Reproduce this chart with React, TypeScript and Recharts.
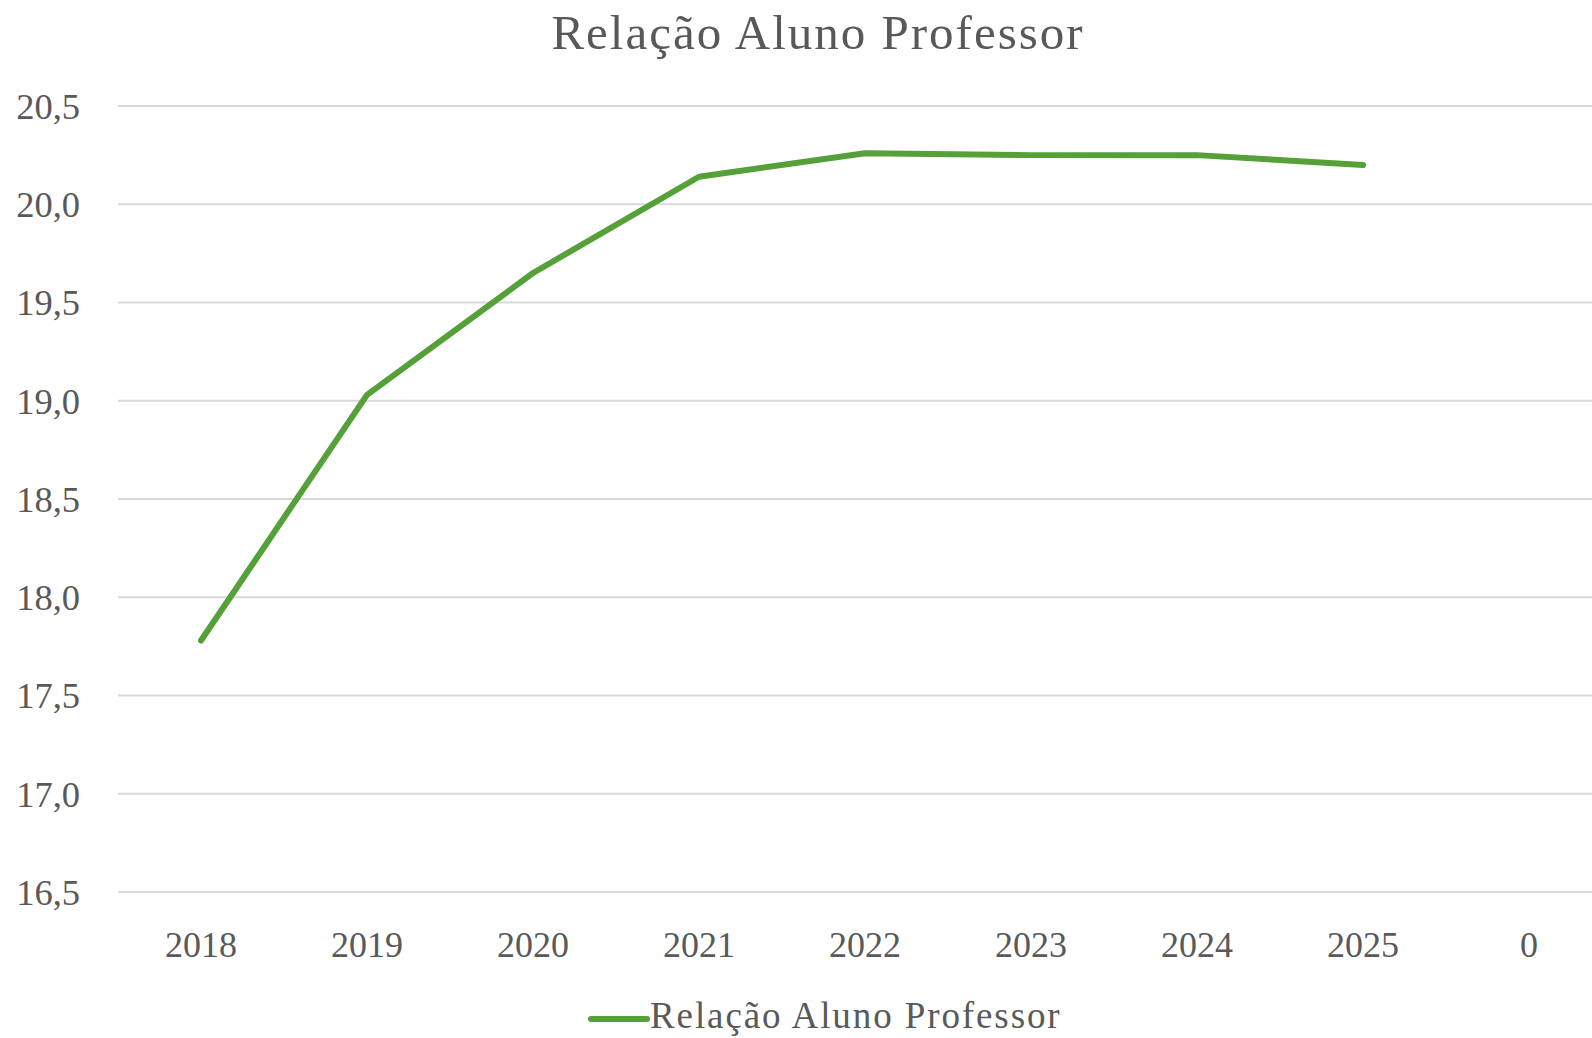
import React from "react"
import { LineChart, Line, XAxis, YAxis, CartesianGrid, Legend } from "recharts"

const years = ["2018", "2019", "2020", "2021", "2022", "2023", "2024", "2025", "0"]
const ratio = [17.78, 19.03, 19.65, 20.14, 20.26, 20.25, 20.25, 20.2, null]
const yTicks = [16.5, 17, 17.5, 18, 18.5, 19, 19.5, 20, 20.5]
const seriesName = "Relação Aluno Professor"
const title = "Relação Aluno Professor"

const data = years.map((year, i) => ({ year, value: ratio[i] }))

const FONT = "'Liberation Serif', serif"
const TEXT = "#595959"
const GREEN = "#55A038"

const LegendContent = (props: any) => {
  const item = props.payload && props.payload[0]
  if (!item) return null
  return (
    <svg width={1612} height={46} style={{ display: "block" }}>
      <line
        x1={591}
        y1={27}
        x2={647}
        y2={27}
        stroke={item.color}
        strokeWidth={6}
        strokeLinecap="round"
      />
      <text
        x={650}
        y={36}
        fill={TEXT}
        fontFamily={FONT}
        fontSize={37}
        letterSpacing={1.9}
      >
        {item.value}
      </text>
    </svg>
  )
}

const App = () => {
  return (
    <div
      style={{
        position: "absolute",
        left: 0,
        top: 0,
        width: 1592,
        height: 1038,
        overflow: "hidden",
        background: "#fff",
      }}
    >
      <LineChart
        width={1612}
        height={1038}
        data={data}
        margin={{ top: 106, right: 0, left: 0, bottom: 0 }}
      >
        <CartesianGrid vertical={false} stroke="#D9D9D9" strokeWidth={2} />
        <XAxis
          dataKey="year"
          axisLine={false}
          tickLine={false}
          tickSize={0}
          tickMargin={39}
          height={100}
          interval={0}
          padding={{ left: 83, right: 83 }}
          tick={{ fill: TEXT, fontFamily: FONT, fontSize: 36 }}
        />
        <YAxis
          domain={[16.5, 20.5]}
          ticks={yTicks}
          width={118}
          axisLine={false}
          tickLine={false}
          tickSize={0}
          tickMargin={38}
          interval={0}
          tickFormatter={(v: number) => v.toFixed(1).replace(".", ",")}
          tick={{ fill: TEXT, fontFamily: FONT, fontSize: 36.5 }}
        />
        <Legend verticalAlign="bottom" height={46} content={LegendContent} />
        <Line
          type="linear"
          dataKey="value"
          name={seriesName}
          stroke={GREEN}
          strokeWidth={6}
          strokeLinecap="round"
          strokeLinejoin="round"
          dot={false}
          activeDot={false}
          isAnimationActive={false}
        />
      </LineChart>
      <svg
        width={1592}
        height={80}
        style={{ position: "absolute", left: 0, top: 0 }}
      >
        <text
          x={818}
          y={49}
          textAnchor="middle"
          fill={TEXT}
          fontFamily={FONT}
          fontSize={49}
          letterSpacing={2}
        >
          {title}
        </text>
      </svg>
    </div>
  )
}

export default App
